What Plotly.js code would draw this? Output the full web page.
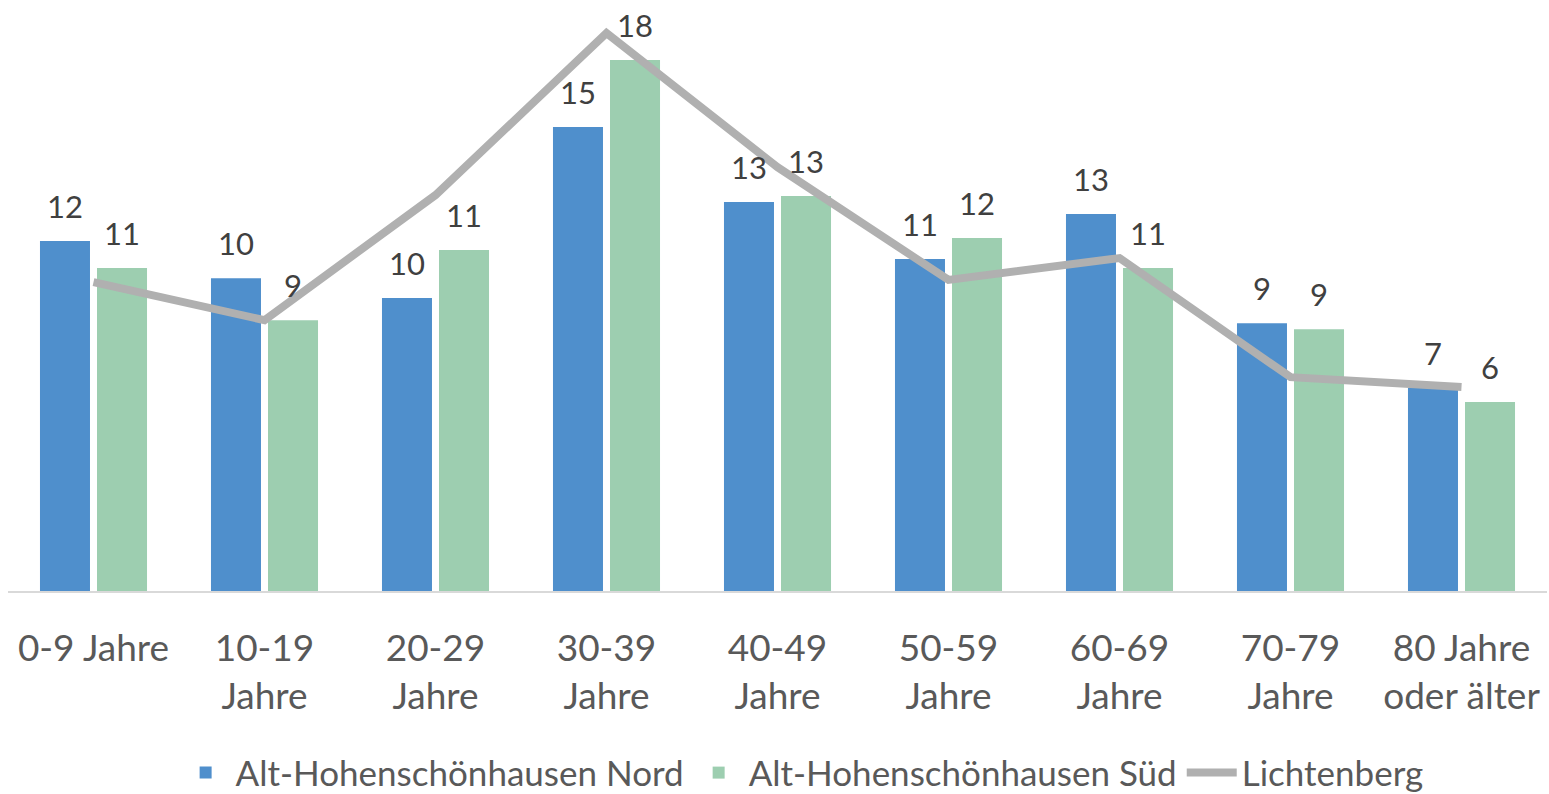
<!DOCTYPE html>
<html>
<head>
<meta charset="utf-8">
<script src="https://cdn.plot.ly/plotly-3.0.1.min.js"></script>
<style>html,body{margin:0;padding:0;background:#fff;}#chart{width:1549px;height:794px;}</style>
</head>
<body>
<div id="chart"></div>
<script>
const categories = ["0-9 Jahre", "10-19<br>Jahre", "20-29<br>Jahre", "30-39<br>Jahre", "40-49<br>Jahre", "50-59<br>Jahre", "60-69<br>Jahre", "70-79<br>Jahre", "80 Jahre<br>oder älter"];
const nord = [11.67, 10.43, 9.77, 15.47, 12.97, 11.07, 12.57, 8.93, 6.77];
const sued = [10.77, 9.03, 11.37, 17.7, 13.17, 11.77, 10.77, 8.73, 6.3];
const lichtenberg = [10.3, 9.03, 13.2, 18.6, 14.13, 10.37, 11.1, 7.13, 6.8];
const seriesNames = ["Alt-Hohenschönhausen Nord", "Alt-Hohenschönhausen Süd", "Lichtenberg"];

const FONT = "Lato, 'Noto Sans', sans-serif";

const traces = [
  {type: "bar", name: seriesNames[0], x: categories, y: nord,
   marker: {color: "#4F8FCC"}, hoverinfo: "skip"},
  {type: "bar", name: seriesNames[1], x: categories, y: sued,
   marker: {color: "#9DCEB0"}, hoverinfo: "skip"},
  {type: "scatter", mode: "lines", name: seriesNames[2], x: categories, y: lichtenberg,
   line: {color: "#B0B0B0", width: 8}, hoverinfo: "skip"}
];

const annotations = [];
[[nord, -28.5], [sued, 28.5]].forEach(([vals, dx]) => {
  vals.forEach((v, i) => {
    annotations.push({
      x: categories[i], y: v, xref: "x", yref: "y",
      text: String(Math.round(v)), showarrow: false,
      xanchor: "center", yanchor: "bottom", xshift: dx, yshift: 14,
      font: {family: FONT, size: 31, color: "#404040"}
    });
  });
});

const layout = {
  width: 1549, height: 794,
  margin: {l: 8, r: 2, t: 10, b: 203, autoexpand: false},
  paper_bgcolor: "#fff", plot_bgcolor: "#fff",
  barmode: "group", bargap: 0.333, bargroupgap: 0.123,
  showlegend: true,
  legend: {orientation: "h", x: 0.516, xanchor: "center", y: -0.313, yanchor: "middle",
           font: {family: FONT, size: 35, color: "#595959"}, itemwidth: 50, tracegroupgap: 0},
  xaxis: {type: "category", showline: true, linecolor: "#D9D9D9", linewidth: 1.5, automargin: false,
          showgrid: false, zeroline: false, ticks: "", ticklabelstandoff: 24,
          tickfont: {family: FONT, size: 37, color: "#595959"}},
  yaxis: {range: [0, 19.37], showgrid: false, zeroline: false, showticklabels: false, showline: false, automargin: false},
  annotations: annotations,
  font: {family: FONT}
};

Plotly.newPlot("chart", traces, layout, {displayModeBar: false, staticPlot: true});
</script>
</body>
</html>
